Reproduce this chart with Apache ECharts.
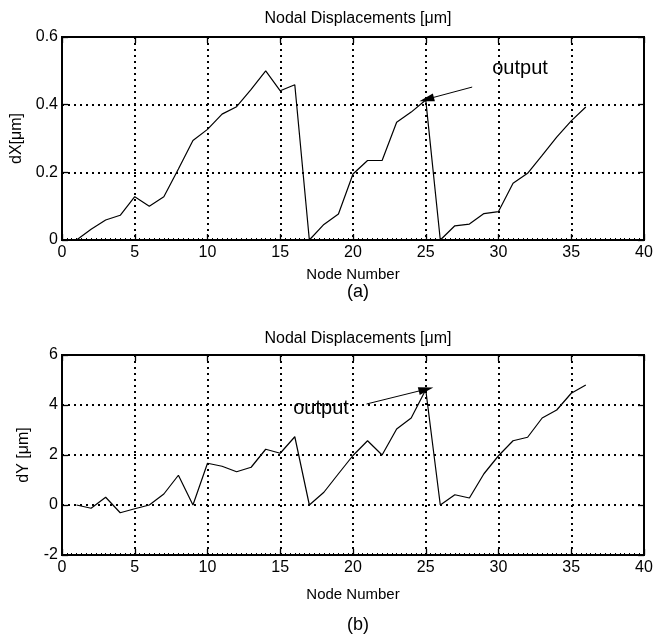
<!DOCTYPE html>
<html>
<head>
<meta charset="utf-8">
<script src="https://cdn.jsdelivr.net/npm/echarts@6/dist/echarts.min.js"></script>
<style>
  html, body { margin: 0; padding: 0; background: #fff; }
  #chart { width: 663px; height: 643px; }
</style>
</head>
<body>
<div id="chart"></div>
<script>
// Node numbers along the structure
const nodes = [1,2,3,4,5,6,7,8,9,10,11,12,13,14,15,16,17,18,19,20,21,22,23,24,25,26,27,28,29,30,31,32,33,34,35,36];

// Horizontal displacement dX [um] per node
const dX = [0,0.032,0.059,0.073,0.128,0.10,0.128,0.21,0.294,0.327,0.372,0.394,0.445,0.50,0.441,0.459,
            0,0.046,0.077,0.195,0.235,0.235,0.348,0.378,0.414,
            0,0.042,0.047,0.078,0.084,0.168,0.197,0.25,0.304,0.352,0.393];

// Vertical displacement dY [um] per node
const dY = [0,-0.13,0.31,-0.31,-0.15,0,0.44,1.19,0,1.67,1.55,1.33,1.51,2.23,2.07,2.73,
            0,0.51,1.25,1.98,2.57,2.0,3.04,3.48,4.61,
            0,0.41,0.28,1.25,1.97,2.57,2.71,3.48,3.8,4.47,4.8];

// Axis ticks
const xTicks = [0,5,10,15,20,25,30,35,40];
const dXTicks = [0,0.2,0.4,0.6];
const dYTicks = [-2,0,2,4,6];

// "output" callouts: text anchor, arrow tail, arrow tip (node, value)
const outX = { text: [29.57, 0.506], tail: [28.19, 0.452], tip: [25.06, 0.416] };
const outY = { text: [15.89, 3.88], tail: [20.93, 4.04], tip: [25.02, 4.63] };

const FONT = 'Liberation Sans, Arial, Helvetica, sans-serif';
const toPairs = (ys) => nodes.map((n, i) => [n, ys[i]]);

const chart = echarts.init(document.getElementById('chart'), null, { renderer: 'canvas' });

const grids = [
  { left: 62, top: 37, width: 582, height: 203, show: true, borderColor: '#000', borderWidth: 2, backgroundColor: '#fff' },
  { left: 62, top: 355, width: 582, height: 200, show: true, borderColor: '#000', borderWidth: 2, backgroundColor: 'transparent' }
];

const dotted = { color: '#000', width: 2, type: [2, 4] };

function xAxisFor(gi) {
  return {
    type: 'value', gridIndex: gi, min: xTicks[0], max: xTicks[xTicks.length - 1], interval: xTicks[1] - xTicks[0],
    name: 'Node Number', nameLocation: 'middle', nameGap: gi === 0 ? 27 : 32,
    nameTextStyle: { fontFamily: FONT, fontSize: 15, color: '#000' },
    axisLine: { show: true, onZero: false, lineStyle: { color: '#000', width: 2 } },
    axisTick: { show: true, inside: true, length: 6, lineStyle: { color: '#000', width: 1.3 } },
    minorTick: { show: true, splitNumber: 15, length: 2, lineStyle: { color: '#000', width: 1 } },
    axisLabel: { fontFamily: FONT, fontSize: 16, color: '#000', margin: 5 },
    splitLine: { show: true, lineStyle: dotted }
  };
}
function xTopFor(gi) {
  return {
    type: 'value', gridIndex: gi, position: 'top', min: xTicks[0], max: xTicks[xTicks.length - 1], interval: xTicks[1] - xTicks[0],
    axisLine: { show: true, onZero: false, lineStyle: { color: '#000', width: 2 } },
    axisTick: { show: true, inside: true, length: 6, lineStyle: { color: '#000', width: 1.3 } },
    axisLabel: { show: false }, splitLine: { show: false }
  };
}
function yAxisFor(gi, ticks, name) {
  return {
    type: 'value', gridIndex: gi, min: ticks[0], max: ticks[ticks.length - 1], interval: ticks[1] - ticks[0],
    name: name, nameLocation: 'middle', nameGap: 30, nameRotate: 90,
    nameTextStyle: { fontFamily: FONT, fontSize: 16, color: '#000' },
    axisLine: { show: true, onZero: false, lineStyle: { color: '#000', width: 2 } },
    axisTick: { show: true, inside: true, length: 6, lineStyle: { color: '#000', width: 1.3 } },
    axisLabel: { fontFamily: FONT, fontSize: 16, color: '#000', margin: 4,
                 formatter: (v) => String(Math.round(v * 10) / 10) },
    splitLine: { show: true, lineStyle: dotted }
  };
}
function yRightFor(gi, ticks) {
  return {
    type: 'value', gridIndex: gi, position: 'right', min: ticks[0], max: ticks[ticks.length - 1], interval: ticks[1] - ticks[0],
    axisLine: { show: true, onZero: false, lineStyle: { color: '#000', width: 2 } },
    axisTick: { show: true, inside: true, length: 6, lineStyle: { color: '#000', width: 1.3 } },
    axisLabel: { show: false }, splitLine: { show: false }
  };
}

function callout(o) {
  return {
    markLine: {
      silent: true, symbol: ['none', 'triangle'], symbolSize: [8, 15],
      lineStyle: { color: '#000', width: 1, type: 'solid' },
      label: { show: false },
      data: [[{ coord: o.tail }, { coord: o.tip }]]
    },
    markPoint: {
      silent: true, symbol: 'rect', symbolSize: 0,
      label: { show: true, formatter: 'output', position: 'right', distance: 0,
               fontFamily: FONT, fontSize: 20, color: '#000' },
      data: [{ coord: o.text }]
    }
  };
}

const lineStyle = { color: '#000', width: 1.2 };

chart.setOption({
  animation: false,
  backgroundColor: '#fff',
  title: [
    { text: 'Nodal Displacements [\u03bcm]', left: 353, top: 6, textAlign: 'center',
      textStyle: { fontFamily: FONT, fontSize: 16, fontWeight: 'normal', color: '#000' } },
    { text: '(a)', left: 353, top: 278, textAlign: 'center',
      textStyle: { fontFamily: FONT, fontSize: 18, fontWeight: 'normal', color: '#000' } },
    { text: 'Nodal Displacements [\u03bcm]', left: 353, top: 326, textAlign: 'center',
      textStyle: { fontFamily: FONT, fontSize: 16, fontWeight: 'normal', color: '#000' } },
    { text: '(b)', left: 353, top: 611, textAlign: 'center',
      textStyle: { fontFamily: FONT, fontSize: 18, fontWeight: 'normal', color: '#000' } }
  ],
  grid: grids,
  xAxis: [xAxisFor(0), xAxisFor(1), xTopFor(0), xTopFor(1)],
  yAxis: [yAxisFor(0, dXTicks, 'dX[\u03bcm]'), yAxisFor(1, dYTicks, 'dY [\u03bcm]'), yRightFor(0, dXTicks), yRightFor(1, dYTicks)],
  series: [
    Object.assign({
      type: 'line', xAxisIndex: 0, yAxisIndex: 0, data: toPairs(dX),
      showSymbol: false, symbol: 'none', lineStyle: lineStyle, z: 5
    }, callout(outX)),
    Object.assign({
      type: 'line', xAxisIndex: 1, yAxisIndex: 1, data: toPairs(dY),
      showSymbol: false, symbol: 'none', lineStyle: lineStyle, z: 5
    }, callout(outY))
  ]
});
</script>
</body>
</html>
